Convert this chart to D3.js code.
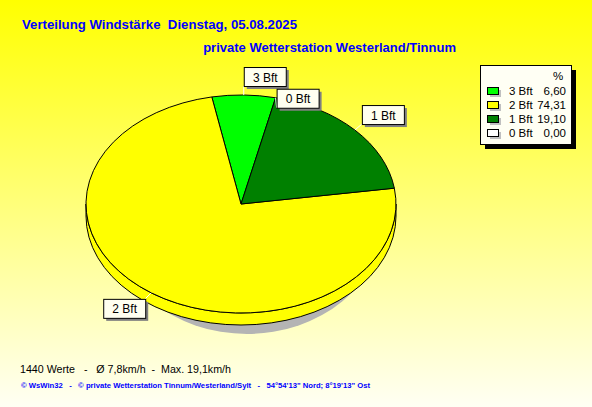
<!DOCTYPE html>
<html><head><meta charset="utf-8">
<script src="https://cdn.jsdelivr.net/npm/d3@7/dist/d3.min.js"></script>
<style>html,body{margin:0;padding:0;overflow:hidden}svg{display:block}text{white-space:pre}</style>
</head><body><svg id="c" width="592" height="407"></svg>
<script>
const categories = ["3 Bft", "2 Bft", "1 Bft", "0 Bft"];
const percentages = [6.60, 74.31, 19.10, 0.00];
const colors = ["#00ff00", "#ffff00", "#008000", "#ffffff"];
const valueLabels = ["6,60", "74,31", "19,10", "0,00"];
const titleText = "Verteilung Windstärke  Dienstag, 05.08.2025";
const subtitleText = "private Wetterstation Westerland/Tinnum";
const footerText = "1440 Werte   -   Ø 7,8km/h  -  Max. 19,1km/h";
const creditText = "© WsWin32   -   © private Wetterstation Tinnum/Westerland/Sylt   -   54°54'13\" Nord; 8°19'13\" Ost";

const svg = d3.select("#c");
const W = 592, H = 407;
const defs = svg.append("defs");
const grad = defs.append("linearGradient").attr("id","bg").attr("x1",0).attr("y1",0).attr("x2",0).attr("y2",1);
grad.append("stop").attr("offset","0%").attr("stop-color","#ffff00");
grad.append("stop").attr("offset","100%").attr("stop-color","#fffff4");
svg.append("rect").attr("width",W).attr("height",H).attr("fill","url(#bg)");

const font = "'Liberation Sans', Arial, sans-serif";
svg.append("text").attr("x",22).attr("y",29).attr("font-family",font).attr("font-weight","bold")
  .attr("font-size",13).attr("fill","#0000ff").attr("textLength",275).attr("lengthAdjust","spacingAndGlyphs").text(titleText);
svg.append("text").attr("x",456).attr("y",52).attr("text-anchor","end").attr("font-family",font).attr("font-weight","bold")
  .attr("font-size",13).attr("fill","#0000ff").text(subtitleText);

// pie geometry
const cx = 241, cy = 204, rx = 155, ry = 109, thick = 12;
const startDeg = 12.9;
const pie = d3.pie().sort(null).value(d => d)
  .startAngle(startDeg * Math.PI/180).endAngle(startDeg * Math.PI/180 - 2*Math.PI);
const arcs = pie(percentages);
const P = (a, dy=0) => [cx + rx*Math.sin(a), cy - ry*Math.cos(a) + dy];

// shadow
svg.append("ellipse").attr("cx",247).attr("cy",222).attr("rx",135).attr("ry",112).attr("fill","#b4b4b4");

function slicePath(a0, a1) {
  const lo = Math.min(a0,a1), hi = Math.max(a0,a1);
  if (hi - lo < 1e-6) return null;
  const p0 = P(lo), p1 = P(hi);
  const large = (hi - lo) > Math.PI ? 1 : 0;
  return `M${cx},${cy}L${p0[0]},${p0[1]}A${rx},${ry} 0 ${large} 1 ${p1[0]},${p1[1]}Z`;
}
function sidePath(lo, hi) {
  const p0 = P(lo), p1 = P(hi), q1 = P(hi,thick), q0 = P(lo,thick);
  const large = (hi - lo) > Math.PI ? 1 : 0;
  return `M${p0[0]},${p0[1]}A${rx},${ry} 0 ${large} 1 ${p1[0]},${p1[1]}L${q1[0]},${q1[1]}A${rx},${ry} 0 ${large} 0 ${q0[0]},${q0[1]}Z`;
}
const gSide = svg.append("g");
arcs.forEach((d,i) => {
  let lo = Math.min(d.startAngle,d.endAngle), hi = Math.max(d.startAngle,d.endAngle);
  for (const k of [-2,-1,0,1]) {
    const off = k*2*Math.PI;
    const a = Math.max(lo, Math.PI/2 + off), b = Math.min(hi, 3*Math.PI/2 + off);
    if (b - a > 1e-6) {
      gSide.append("path").attr("d", sidePath(a,b)).attr("fill", colors[i])
        .attr("stroke","#000").attr("stroke-width",1);
    }
  }
});
const gTop = svg.append("g");
arcs.forEach((d,i) => {
  const p = slicePath(d.startAngle, d.endAngle);
  if (p) gTop.append("path").attr("d", p).attr("fill", colors[i]).attr("stroke","#000").attr("stroke-width",1).attr("stroke-linejoin","round");
});

// labels
const boxW = 42, boxH = 19;
const labelOffsets = {
  "3 Bft": {dx:0, dy:-9, corner:"bl"},
  "0 Bft": {dx:1, dy:10, corner:"bl"},
  "1 Bft": {dx:7, dy:-6, corner:"bl"},
  "2 Bft": {dx:-6, dy:6, corner:"tr"}
};
const gLab = svg.append("g");
arcs.forEach((d,i) => {
  const mid = (d.startAngle + d.endAngle)/2;
  const a = P(mid);
  const o = labelOffsets[categories[i]];
  const c = [a[0]+o.dx, a[1]+o.dy];
  let bx, by;
  if (o.corner === "bl") { bx = c[0]; by = c[1]-boxH; }
  else { bx = c[0]-boxW; by = c[1]; }
  gLab.append("line").attr("x1",a[0]).attr("y1",a[1]).attr("x2",c[0]).attr("y2",c[1]).attr("stroke","#fff").attr("stroke-width",1);
  gLab.append("rect").attr("x",bx+3).attr("y",by+3).attr("width",boxW).attr("height",boxH).attr("fill","#808080");
  gLab.append("rect").attr("x",bx+0.5).attr("y",by+0.5).attr("width",boxW).attr("height",boxH).attr("fill","#fffff0").attr("stroke","#000");
  gLab.append("text").attr("x",bx+boxW/2+0.5).attr("y",by+14.5).attr("text-anchor","middle").attr("font-family",font)
    .attr("font-size",12).attr("fill","#000").text(categories[i]);
});

// legend
const lg = svg.append("g");
const lx = 480, ly = 65, lw = 91, lh = 79;
lg.append("rect").attr("x",lx+5).attr("y",ly+5).attr("width",lw).attr("height",lh).attr("fill","#000");
lg.append("rect").attr("x",lx+0.5).attr("y",ly+0.5).attr("width",lw).attr("height",lh).attr("fill","#fffff4").attr("stroke","#000");
lg.append("text").attr("x",558).attr("y",80).attr("text-anchor","middle").attr("font-family",font).attr("font-size",11.5).text("%");
const rowY = d3.scalePoint().domain(categories).range([91,133]);
categories.forEach((c,i) => {
  const y = rowY(c);
  lg.append("rect").attr("x",490).attr("y",y-1).attr("width",11).attr("height",7).attr("fill","#c0c0c0");
  lg.append("rect").attr("x",487.5).attr("y",y-3.5).attr("width",11).attr("height",7).attr("fill",colors[i]).attr("stroke","#000");
  lg.append("text").attr("x",509).attr("y",y+4).attr("font-family",font).attr("font-size",11.5).text(c);
  lg.append("text").attr("x",566).attr("y",y+4).attr("text-anchor","end").attr("font-family",font).attr("font-size",11.5).text(valueLabels[i]);
});

// footer
svg.append("text").attr("x",20).attr("y",373).attr("font-family",font).attr("font-size",11.5).attr("fill","#000")
  .attr("textLength",211).attr("lengthAdjust","spacingAndGlyphs").text(footerText);
svg.append("text").attr("x",21).attr("y",388).attr("font-family",font).attr("font-size",8).attr("font-weight","bold").attr("fill","#0000ff")
  .attr("textLength",349).attr("lengthAdjust","spacingAndGlyphs").text(creditText);
</script></body></html>
